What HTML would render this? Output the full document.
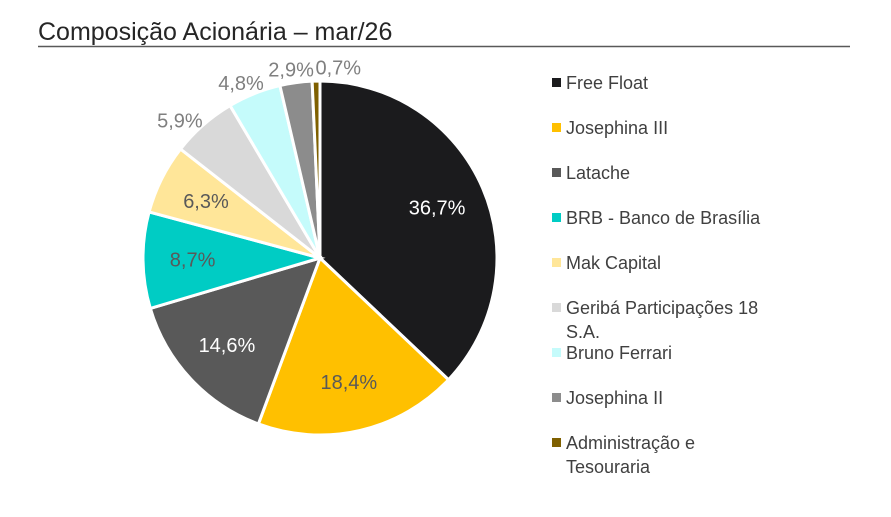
<!DOCTYPE html>
<html><head><meta charset="utf-8"><style>
body{margin:0;background:#fff;width:891px;height:512px;overflow:hidden;font-family:"Liberation Sans",sans-serif}
</style></head><body>
<svg id="chart" width="891" height="512" xmlns="http://www.w3.org/2000/svg">
<text x="38" y="40" font-size="25" fill="#262626" font-family="Liberation Sans, sans-serif">Composição Acionária – mar/26</text>
<line x1="38" y1="46.5" x2="850" y2="46.5" stroke="#595959" stroke-width="1.5"/>
<g id="slices"></g><g id="labels"></g><g id="legend"></g>
</svg>
<script>
const categories=["Free Float","Josephina III","Latache","BRB - Banco de Brasília","Mak Capital","Geribá Participações 18 S.A.","Bruno Ferrari","Josephina II","Administração e Tesouraria"];
const values=[36.7,18.4,14.6,8.7,6.3,5.9,4.8,2.9,0.7];
const valueLabels=["36,7%","18,4%","14,6%","8,7%","6,3%","5,9%","4,8%","2,9%","0,7%"];
const legendLines=[["Free Float"],["Josephina III"],["Latache"],["BRB - Banco de Brasília"],["Mak Capital"],["Geribá Participações 18","S.A."],["Bruno Ferrari"],["Josephina II"],["Administração e","Tesouraria"]];
const colors=["#1b1b1d","#ffc000","#595959","#00ccc4","#ffe699","#d9d9d9","#c5fbfb","#8c8c8c","#7f6000"];
const labelColors=["#fff","#595959","#fff","#595959","#595959","#7f7f7f","#7f7f7f","#7f7f7f","#7f7f7f"];
const NS="http://www.w3.org/2000/svg";
const cx=320,cy=258,r=177;
const total=values.reduce((a,b)=>a+b,0);
const sl=document.getElementById('slices'),lb=document.getElementById('labels'),lg=document.getElementById('legend');
function pt(a,rr){return [cx+rr*Math.sin(a),cy-rr*Math.cos(a)];}
let acc=0;
values.forEach((v,i)=>{
  const a0=acc/total*2*Math.PI;acc+=v;const a1=acc/total*2*Math.PI;
  const p0=pt(a0,r),p1=pt(a1,r);const large=(a1-a0)>Math.PI?1:0;
  const p=document.createElementNS(NS,'path');
  p.setAttribute('d',`M${cx},${cy}L${p0[0]},${p0[1]}A${r},${r} 0 ${large} 1 ${p1[0]},${p1[1]}Z`);
  p.setAttribute('fill',colors[i]);p.setAttribute('stroke','#fff');p.setAttribute('stroke-width','3');
  
  
  sl.appendChild(p);
  const am=(a0+a1)/2;
  let lp;
  if(v>6){lp=pt(am,r*0.72);}else{lp=pt(am,r*1.2);lp[1]+=22;}
  if(v<1){lp[0]+=23;}
  const t=document.createElementNS(NS,'text');
  t.setAttribute('x',lp[0]);t.setAttribute('y',lp[1]+7);t.setAttribute('text-anchor','middle');
  t.setAttribute('font-size','20');t.setAttribute('fill',labelColors[i]);
  t.textContent=valueLabels[i];
  
  
  lb.appendChild(t);
  const y=83+i*45;
  const g=document.createElementNS(NS,'g');
  
  
  const m=document.createElementNS(NS,'rect');
  m.setAttribute('x',552);m.setAttribute('y',y-5);m.setAttribute('width',9);m.setAttribute('height',9);m.setAttribute('fill',colors[i]);
  g.appendChild(m);
  legendLines[i].forEach((ln,j)=>{
    const tt=document.createElementNS(NS,'text');
    tt.setAttribute('x',566);tt.setAttribute('y',y+6+j*24);tt.setAttribute('font-size','18');tt.setAttribute('fill','#404040');
    tt.textContent=ln;g.appendChild(tt);
  });
  lg.appendChild(g);
});
</script>
</body></html>
